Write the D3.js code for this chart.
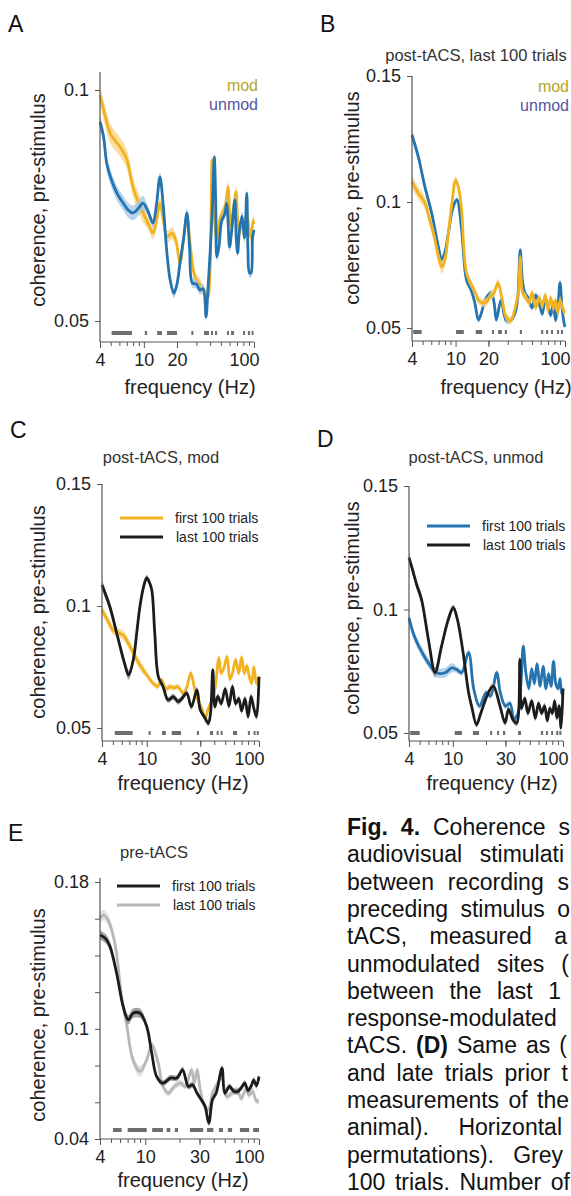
<!DOCTYPE html>
<html>
<head>
<meta charset="utf-8">
<script src="https://cdn.jsdelivr.net/npm/d3@7"></script>
<style>
  body { margin: 0; background: #fff; overflow: hidden; }
  svg { display: block; font-family: Arial, "Liberation Sans", sans-serif; }
</style>
</head>
<body>
<svg id="fig" width="571" height="1196"></svg>
<script>
// ---- data ----
const freqLabelsAB = [4, 10, 20, 100]
const freqLabelsCDE = [4, 10, 30, 100]
const minorFreqs = [5, 6, 7, 8, 9, 20, 30, 40, 50, 60, 70, 80, 90]

// A: pre-stimulus coherence, mod vs unmod
const aModFreq = [4, 4.5, 4.93, 5.5, 6.08, 7, 7.97, 9, 9.83, 11, 12.1, 13, 14, 15, 16.2, 18, 19.5, 21.3, 23, 24.6, 26.5, 29.1, 32, 35.9, 38, 40, 41.6, 43, 46, 49, 52, 55, 58, 60, 62, 65, 68.7, 71, 74, 78, 82, 86, 90, 94, 98, 100]
const aModCoh = [0.0989, 0.094, 0.0907, 0.089, 0.0877, 0.085, 0.079, 0.0755, 0.0734, 0.071, 0.069, 0.0715, 0.0755, 0.072, 0.0682, 0.069, 0.0675, 0.0626, 0.068, 0.0725, 0.066, 0.0595, 0.058, 0.056, 0.055, 0.062, 0.0849, 0.075, 0.0675, 0.072, 0.0734, 0.075, 0.079, 0.074, 0.0704, 0.074, 0.078, 0.072, 0.069, 0.072, 0.068, 0.0734, 0.07, 0.068, 0.0718, 0.071]
const aUnmodFreq = [4, 4.3, 4.6, 5.0, 5.7, 6.5, 7.2, 8, 9, 9.8, 10.8, 12.1, 13, 14, 15, 16.2, 17.3, 18.7, 20, 21.3, 23, 24.6, 26, 27.6, 30, 32.3, 34.5, 36.7, 38, 40, 42, 43.6, 45, 46, 48, 51, 54, 56.5, 58, 60, 63, 67, 69, 71, 74, 78, 82, 86, 88, 91, 94, 97, 100]
const aUnmodCoh = [0.0931, 0.09, 0.0842, 0.081, 0.0777, 0.0755, 0.074, 0.0734, 0.0745, 0.0755, 0.074, 0.0712, 0.075, 0.0812, 0.075, 0.0647, 0.059, 0.056, 0.058, 0.0626, 0.068, 0.0734, 0.066, 0.0582, 0.058, 0.0567, 0.057, 0.0509, 0.056, 0.065, 0.075, 0.0855, 0.075, 0.0639, 0.066, 0.0718, 0.073, 0.0755, 0.072, 0.066, 0.07, 0.0762, 0.068, 0.0647, 0.07, 0.0727, 0.068, 0.0777, 0.066, 0.0604, 0.0604, 0.068, 0.0697]
const aSig = [[5.1, 7.8], [10.2, 10.7], [13.2, 14.6], [16.2, 20], [27, 28], [35.2, 39], [40.7, 42.5], [44.3, 46], [56.9, 59.3], [61.9, 65.8], [79.5, 82.9], [88, 92], [95, 97]]

// B: post-tACS, last 100 trials
const bUnmodFreq = [4, 4.57, 5.25, 6.05, 6.97, 7.47, 8.0, 8.6, 9.5, 10.3, 11.3, 12.6, 13.9, 15, 16.2, 17.5, 18.6, 21.2, 22.5, 23.6, 26, 29, 32, 35, 37, 39, 41, 43, 46, 50, 54, 58, 62, 66, 70, 74, 78, 82, 86, 90, 94, 98, 100]
const bUnmodCoh = [0.1266, 0.1179, 0.106, 0.0956, 0.0821, 0.077, 0.08, 0.0877, 0.098, 0.1008, 0.09, 0.069, 0.065, 0.06, 0.0532, 0.057, 0.061, 0.0639, 0.06, 0.0532, 0.061, 0.053, 0.053, 0.056, 0.062, 0.081, 0.068, 0.0639, 0.062, 0.058, 0.063, 0.06, 0.0555, 0.062, 0.058, 0.055, 0.06, 0.053, 0.058, 0.068, 0.058, 0.052, 0.0504]
const bModFreq = [4, 4.5, 5.25, 5.8, 6.4, 7.0, 7.5, 8.0, 8.6, 9.3, 10, 10.6, 11.3, 12.6, 14.3, 15.5, 16.2, 18.6, 21, 22.5, 24.4, 26.5, 29, 32, 35, 37.5, 39, 41, 44, 47, 50, 54, 58, 62, 66, 70, 74, 78, 82, 86, 90, 95, 100]
const bModCoh = [0.108, 0.104, 0.0996, 0.093, 0.0861, 0.078, 0.0742, 0.077, 0.0877, 0.1, 0.1087, 0.106, 0.098, 0.0718, 0.0663, 0.063, 0.061, 0.06, 0.0628, 0.064, 0.0679, 0.062, 0.0544, 0.053, 0.058, 0.064, 0.078, 0.064, 0.062, 0.06, 0.064, 0.058, 0.062, 0.059, 0.063, 0.057, 0.062, 0.058, 0.061, 0.056, 0.061, 0.058, 0.056]
const bSig = [[4.1, 4.9], [10.1, 11.9], [15.3, 17.5], [21.5, 22.4], [24.5, 26.5], [28.2, 29.5], [38.7, 40.4], [60.5, 63.2], [67.1, 70.1], [74.5, 77.8], [84.6, 88.3], [92, 96]]

// C: post-tACS, mod sites, first vs last 100 trials
const cFirstFreq = [4, 4.5, 5.0, 5.6, 6.2, 7.0, 7.6, 8.4, 9.3, 10.3, 11.4, 12.5, 13.6, 14.8, 16, 17.5, 19, 21, 22.5, 24.7, 26.5, 28.5, 31, 33, 35.5, 38, 40.5, 44, 46, 49, 52, 55, 58, 62, 66, 70, 74, 78, 82, 86, 90, 95, 100]
const cFirstCoh = [0.0984, 0.094, 0.0902, 0.089, 0.088, 0.084, 0.0807, 0.077, 0.0738, 0.071, 0.0683, 0.067, 0.0697, 0.066, 0.0669, 0.0665, 0.0669, 0.0643, 0.066, 0.0725, 0.0669, 0.0615, 0.058, 0.054, 0.058, 0.0615, 0.066, 0.0787, 0.0724, 0.075, 0.0792, 0.07, 0.0724, 0.078, 0.0724, 0.079, 0.0724, 0.0755, 0.071, 0.0683, 0.075, 0.0683, 0.071]
const cLastFreq = [4, 4.7, 5.2, 5.8, 6.4, 6.9, 7.6, 8.2, 8.7, 9.4, 10, 10.5, 11.1, 11.8, 12.7, 14, 15.5, 17.3, 19, 20.5, 22.7, 25, 28, 30, 32.6, 35.4, 37, 38.8, 40.5, 43, 46, 50, 54, 58, 62, 66, 70, 75, 80, 85, 90, 95, 100]
const cLastCoh = [0.1086, 0.0997, 0.092, 0.0833, 0.076, 0.0717, 0.078, 0.09, 0.0997, 0.108, 0.1115, 0.11, 0.1066, 0.0889, 0.071, 0.0669, 0.0615, 0.0628, 0.0608, 0.062, 0.0643, 0.0587, 0.0656, 0.0574, 0.0546, 0.0519, 0.056, 0.0738, 0.0587, 0.063, 0.06, 0.066, 0.059, 0.067, 0.06, 0.062, 0.057, 0.062, 0.0546, 0.063, 0.058, 0.0546, 0.071]
const cSig = [[5.2, 7.5], [10.4, 10.7], [13.7, 14.8], [16.7, 20.2], [28, 28.6], [36.6, 39], [42, 42.9], [45.5, 46.4], [58.7, 63.8], [79.6, 83], [89.5, 91], [95.5, 97]]

// D: post-tACS, unmod sites, first vs last 100 trials
const dFirstFreq = [4, 4.4, 4.9, 6.0, 7.1, 8.5, 9.8, 11, 12, 13.9, 15.5, 17.5, 20, 22, 25, 27, 30, 33, 36, 39, 41.5, 43.6, 46, 49, 52, 55, 58, 62, 66, 70, 74, 78, 82, 86, 90, 94, 97, 100]
const dFirstCoh = [0.0966, 0.09, 0.0852, 0.0784, 0.0744, 0.0744, 0.0764, 0.0755, 0.0744, 0.0825, 0.0676, 0.0609, 0.0663, 0.065, 0.0744, 0.0663, 0.0609, 0.062, 0.0555, 0.058, 0.07, 0.0852, 0.0744, 0.068, 0.076, 0.07, 0.078, 0.069, 0.077, 0.068, 0.074, 0.069, 0.079, 0.07, 0.068, 0.072, 0.066, 0.0678]
const dLastFreq = [4, 4.3, 4.7, 5.2, 6.0, 6.9, 7.9, 9.1, 10.1, 11, 12.4, 13.9, 14.8, 16.4, 18, 21, 23.3, 26.8, 29.8, 32, 35, 38, 40.6, 42, 45, 48, 52, 56, 60, 64, 68, 72, 76, 80, 84, 88, 92, 96, 100]
const dLastCoh = [0.121, 0.1162, 0.11, 0.104, 0.0879, 0.0745, 0.0852, 0.096, 0.1007, 0.096, 0.0825, 0.0663, 0.0609, 0.0534, 0.0582, 0.0663, 0.069, 0.0609, 0.0541, 0.0596, 0.0555, 0.054, 0.0798, 0.06, 0.064, 0.058, 0.063, 0.056, 0.062, 0.058, 0.061, 0.055, 0.06, 0.058, 0.063, 0.056, 0.061, 0.052, 0.068]
const dSig = [[4.1, 5.0], [10.4, 12.1], [15.2, 17.3], [21.8, 22.7], [25.2, 25.8], [28.5, 29.9], [39.1, 41.6], [63, 66], [70, 73], [78, 81], [86.7, 90.6], [92.6, 96.7]]

// E: pre-tACS, first vs last 100 trials
const eFirstFreq = [4, 4.5, 4.9, 5.6, 6.4, 7.1, 7.8, 9, 10.3, 11.4, 12.6, 14.3, 16.6, 19, 21.3, 23.9, 26, 28.5, 31, 33.5, 36.2, 39, 42, 47.3, 50, 55, 60, 65, 70, 75, 80, 85, 90, 95, 100]
const eFirstCoh = [0.1512, 0.149, 0.1448, 0.1303, 0.1121, 0.1049, 0.1085, 0.1085, 0.1013, 0.0868, 0.074, 0.0704, 0.0732, 0.0732, 0.0777, 0.0686, 0.0695, 0.065, 0.0615, 0.058, 0.0487, 0.0615, 0.065, 0.0786, 0.065, 0.0686, 0.066, 0.0659, 0.068, 0.0704, 0.0665, 0.0686, 0.072, 0.069, 0.074]
const eLastFreq = [4, 4.3, 4.7, 5.4, 6.2, 6.9, 7.8, 9, 10.3, 11.4, 13, 14.3, 16, 18, 20.5, 22.5, 25.5, 27, 28.5, 30.5, 33, 36, 39, 43, 47, 52, 58, 64, 70, 76, 82, 88, 94, 100]
const eLastCoh = [0.1603, 0.162, 0.1594, 0.1467, 0.1176, 0.1013, 0.0831, 0.0768, 0.0831, 0.0913, 0.0813, 0.0686, 0.065, 0.0686, 0.0704, 0.0686, 0.0777, 0.0704, 0.0777, 0.0668, 0.058, 0.056, 0.065, 0.07, 0.074, 0.0632, 0.065, 0.0668, 0.062, 0.0668, 0.064, 0.066, 0.061, 0.0605]
const eSig = [[5.2, 6.2], [7.0, 10.3], [11.5, 14.3], [15.4, 16.6], [18.2, 19.4], [24.7, 32.3], [34.9, 39.7], [44.4, 48.2], [53.2, 58], [68, 82], [88.7, 100]]

// caption fragments visible before the right edge, and where each line ends
const captionLines = [
  [['Fig. 4.', true], [' Coherence s', false]],
  [['audiovisual stimulati', false]],
  [['between recording s', false]],
  [['preceding stimulus o', false]],
  [['tACS, measured a', false]],
  [['unmodulated sites (', false]],
  [['between the last 1', false]],
  [['response-modulated', false]],
  [['tACS. ', false], ['(D)', true], [' Same as (', false]],
  [['and late trials prior t', false]],
  [['measurements of the', false]],
  [['animal). Horizontal', false]],
  [['permutations). Grey', false]],
  [['100 trials. Number of', false]],
]
const captionEnds = [570, 564, 569, 570, 567, 569, 561, 0, 567, 568, 569, 562, 563, 570]

// ---- styles ----
const gold = '#f1b21f', goldBand = '#f7d58a'
const blue = '#2474b0', blueBand = '#a6c8e6'
const black = '#1c1c1c', blackBand = '#8a8a8a'
const grey = '#b8b8b8', greyBand = '#dadada'
const sigColor = '#6e6e6e'

const svg = d3.select('#fig')

const zip = (fs, vs) => fs.map((f, i) => [f, vs[i]])

function panel(p) {
  const g = svg.append('g')
  const x = d3.scaleLog().domain([4, 100]).range([p.left, p.right])
  const y = d3.scaleLinear().domain(p.yRef).range(p.yRefPx)

  // significance bars
  g.selectAll('rect.sig')
    .data(p.sig)
    .enter()
    .append('rect')
    .attr('x', d => x(d[0]))
    .attr('width', d => Math.max(2, x(d[1]) - x(d[0])))
    .attr('y', p.sigY - 2)
    .attr('height', 4)
    .attr('fill', sigColor)

  // series: band then line
  const line = d3.line().x(d => x(d[0])).y(d => y(d[1])).curve(d3.curveCatmullRom.alpha(0.5))
  p.series.forEach(s => {
    const pts = zip(s.freq, s.coh)
    const band = d3.area()
      .x(d => x(d[0]))
      .y0(d => y(d[1] - s.band * (d[0] < 10 ? 1.6 : 1)))
      .y1(d => y(d[1] + s.band * (d[0] < 10 ? 1.6 : 1)))
      .curve(d3.curveCatmullRom.alpha(0.5))
    g.append('path').attr('d', band(pts)).attr('fill', s.bandColor).attr('opacity', 0.8)
    g.append('path').attr('d', line(pts))
      .attr('fill', 'none').attr('stroke', s.color).attr('stroke-width', 2.8)
      .attr('stroke-linejoin', 'round')
  })

  // y axis
  const yAxis = d3.axisLeft(y).tickValues(p.yTicks)
    .tickFormat(d => p.yLabels.includes(d) ? d3.format('')(d) : '')
    .tickSize(5).tickSizeOuter(0).tickPadding(6)
  const ya = g.append('g').attr('transform', `translate(${ p.left },0)`).call(yAxis)
  ya.select('.domain').remove()
  ya.append('line').attr('x1', 0).attr('x2', 0).attr('y1', p.axisTop).attr('y2', p.axisY)
    .attr('stroke', '#555').attr('stroke-width', 1.2)

  // x axis
  const xMinor = d3.axisBottom(x).tickValues(minorFreqs).tickFormat('').tickSize(4).tickSizeOuter(0)
  const xMajor = d3.axisBottom(x).tickValues(p.xLabels)
    .tickFormat(d3.format('')).tickSize(6).tickSizeOuter(0).tickPadding(5)
  const xm = g.append('g').attr('transform', `translate(0,${ p.axisY })`).call(xMinor)
  xm.select('.domain').remove()
  const xa = g.append('g').attr('transform', `translate(0,${ p.axisY })`).call(xMajor)
  xa.select('.domain').attr('d', `M${ p.left },0H${ p.right }`)
  xa.selectAll('.tick').filter(d => d === 100).select('text').attr('text-anchor', 'end').attr('dx', 5)

  svg.selectAll('.tick line').attr('stroke', '#555')
  g.selectAll('.domain').attr('stroke', '#555').attr('stroke-width', 1.2)
  g.selectAll('.tick text').attr('font-size', 18).attr('fill', '#222')
    .attr('font-family', 'Arial, "Liberation Sans", sans-serif')

  // axis titles
  g.append('text').attr('x', p.xTitle[0]).attr('y', p.xTitle[1])
    .attr('text-anchor', 'middle').attr('font-size', 20).attr('fill', '#222')
    .text('frequency (Hz)')
  g.append('text')
    .attr('transform', `translate(${ p.yTitle[0] },${ p.yTitle[1] }) rotate(-90)`)
    .attr('text-anchor', 'middle').attr('font-size', 20).attr('fill', '#222')
    .text('coherence, pre-stimulus')

  // panel letter and title
  g.append('text').attr('x', p.letterPos[0]).attr('y', p.letterPos[1])
    .attr('font-size', 23).attr('fill', '#111').text(p.letter)
  if (p.title) {
    g.append('text').attr('x', p.title[0]).attr('y', p.title[1])
      .attr('text-anchor', 'middle').attr('font-size', 16.5).attr('fill', '#333')
      .text(p.title[2])
  }

  // legend
  if (p.textLegend) {
    p.textLegend.forEach((t, i) => {
      g.append('text').attr('x', p.legendPos[0]).attr('y', p.legendPos[1] + i * 19)
        .attr('text-anchor', 'end').attr('font-size', 16).attr('fill', t.color).text(t.label)
    })
  }
  if (p.lineLegend) {
    p.lineLegend.forEach((t, i) => {
      const ly = p.legendPos[1] + i * 19
      g.append('line').attr('x1', p.legendPos[0]).attr('x2', p.legendPos[0] + 43)
        .attr('y1', ly).attr('y2', ly).attr('stroke', t.color).attr('stroke-width', 3)
      g.append('text').attr('x', p.legendPos[0] + 55 + i).attr('y', ly + 5)
        .attr('font-size', 14).attr('fill', '#222').text(t.label)
    })
  }
}

panel({
  letter: 'A', letterPos: [8, 32],
  left: 100, right: 254, axisTop: 72, axisY: 342,
  yRef: [0.05, 0.1], yRefPx: [321, 90], yTicks: [0.05, 0.1], yLabels: [0.05, 0.1],
  xLabels: freqLabelsAB, sigY: 333,
  xTitle: [190, 394], yTitle: [45, 200],
  textLegend: [{ label: 'mod', color: '#b8a42a' }, { label: 'unmod', color: '#55559c' }],
  legendPos: [258, 91],
  sig: aSig,
  series: [
    { freq: aModFreq, coh: aModCoh, color: gold, bandColor: goldBand, band: 0.0013 },
    { freq: aUnmodFreq, coh: aUnmodCoh, color: blue, bandColor: blueBand, band: 0.001 },
  ],
})

panel({
  letter: 'B', letterPos: [320, 32], title: [476, 61, 'post-tACS, last 100 trials'],
  left: 412, right: 565, axisTop: 76, axisY: 341,
  yRef: [0.05, 0.15], yRefPx: [328, 76], yTicks: [0.05, 0.1, 0.15], yLabels: [0.05, 0.1, 0.15],
  xLabels: freqLabelsAB, sigY: 332,
  xTitle: [506, 394], yTitle: [359, 198],
  textLegend: [{ label: 'mod', color: '#b8a42a' }, { label: 'unmod', color: '#55559c' }],
  legendPos: [569, 92],
  sig: bSig,
  series: [
    { freq: bUnmodFreq, coh: bUnmodCoh, color: blue, bandColor: blueBand, band: 0.0012 },
    { freq: bModFreq, coh: bModCoh, color: gold, bandColor: goldBand, band: 0.0016 },
  ],
})

panel({
  letter: 'C', letterPos: [10, 438], title: [161, 463, 'post-tACS, mod'],
  left: 102, right: 259, axisTop: 484, axisY: 741,
  yRef: [0.05, 0.15], yRefPx: [728, 484], yTicks: [0.05, 0.1, 0.15], yLabels: [0.05, 0.1, 0.15],
  xLabels: freqLabelsCDE, sigY: 733,
  xTitle: [183, 790], yTitle: [45, 612],
  lineLegend: [{ label: 'first 100 trials', color: gold }, { label: 'last 100 trials', color: black }],
  legendPos: [120, 518],
  sig: cSig,
  series: [
    { freq: cFirstFreq, coh: cFirstCoh, color: gold, bandColor: goldBand, band: 0.0012 },
    { freq: cLastFreq, coh: cLastCoh, color: black, bandColor: blackBand, band: 0.0012 },
  ],
})

panel({
  letter: 'D', letterPos: [317, 447], title: [476, 463, 'post-tACS, unmod'],
  left: 409, right: 563, axisTop: 486, axisY: 741,
  yRef: [0.05, 0.15], yRefPx: [733, 486], yTicks: [0.05, 0.1, 0.15], yLabels: [0.05, 0.1, 0.15],
  xLabels: freqLabelsCDE, sigY: 733,
  xTitle: [492, 790], yTitle: [359, 608],
  lineLegend: [{ label: 'first 100 trials', color: blue }, { label: 'last 100 trials', color: black }],
  legendPos: [427, 526],
  sig: dSig,
  series: [
    { freq: dFirstFreq, coh: dFirstCoh, color: blue, bandColor: blueBand, band: 0.0012 },
    { freq: dLastFreq, coh: dLastCoh, color: black, bandColor: blackBand, band: 0.0012 },
  ],
})

panel({
  letter: 'E', letterPos: [8, 841], title: [154, 858, 'pre-tACS'],
  left: 100, right: 259, axisTop: 878, axisY: 1139,
  yRef: [0.04, 0.18], yRefPx: [1139, 882], yTicks: [0.04, 0.06, 0.08, 0.1, 0.12, 0.14, 0.16, 0.18], yLabels: [0.04, 0.1, 0.18],
  xLabels: freqLabelsCDE, sigY: 1130,
  xTitle: [183, 1187], yTitle: [45, 1015],
  lineLegend: [{ label: 'first 100 trials', color: black }, { label: 'last 100 trials', color: grey }],
  legendPos: [117, 886],
  sig: eSig,
  series: [
    { freq: eLastFreq, coh: eLastCoh, color: grey, bandColor: greyBand, band: 0.0018 },
    { freq: eFirstFreq, coh: eFirstCoh, color: black, bandColor: blackBand, band: 0.0016 },
  ],
})

// ---- caption (justified lines, cut by the right edge as in the source) ----
const capLeft = 347
const cap = svg.append('g')
captionLines.forEach((parts, i) => {
  const t = cap.append('text').attr('x', capLeft).attr('y', 835 + i * 27.3)
    .attr('font-size', 23).attr('fill', '#111')
  parts.forEach(([str, bold]) => {
    t.append('tspan').attr('font-weight', bold ? 'bold' : 'normal').text(str)
  })
  const spaces = parts.map(d => d[0]).join('').split(' ').length - 1
  const natural = t.node().getComputedTextLength()
  if (captionEnds[i] && spaces > 0) {
    const extra = (captionEnds[i] - capLeft - natural) / spaces
    t.attr('word-spacing', Math.max(0, extra))
  }
})
</script>
</body>
</html>
